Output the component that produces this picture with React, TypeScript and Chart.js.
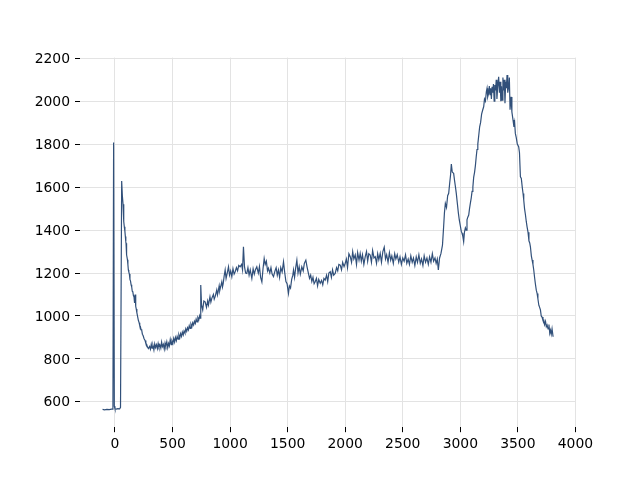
import React, { useEffect, useRef } from "react";
import { Chart, registerables } from "chart.js";

Chart.register(...registerables);

// [x, value] readings, split by region of the trace
const baseline: [number, number][] = [
  [-108, 565], [-90, 563], [-70, 565], [-50, 564], [-30, 566], [-18, 566],
  [-12, 1808], [-6, 580], [0, 567], [10, 566], [25, 568], [40, 567], [48, 575],
];

const decay: [number, number][] = [
  [58, 1628], [64, 1560], [70, 1520], [76, 1440], [81, 1415], [86, 1395], [90, 1370],
  [94, 1345], [96, 1338], [98, 1300], [100, 1330], [104, 1285], [108, 1262], [112, 1240],
  [116, 1214], [120, 1205], [125, 1195], [130, 1170], [135, 1162], [140, 1145],
  [145, 1136], [150, 1115], [155, 1112], [160, 1095], [165, 1089], [170, 1060],
  [175, 1100], [180, 1045], [185, 1032], [190, 1015], [197, 996], [203, 980],
  [210, 968], [215, 955], [220, 952], [226, 938], [232, 934], [238, 915], [245, 908],
  [252, 895], [261, 886], [268, 872], [275, 868], [282, 855], [290, 848],
];

const trough: [number, number][] = [
  [300, 858], [308, 845], [315, 868], [322, 850], [330, 862], [338, 842], [345, 870],
  [352, 853], [360, 866], [368, 848], [375, 872], [382, 855], [390, 865], [398, 850],
  [405, 878], [412, 857], [420, 868], [428, 846], [435, 874], [442, 860], [450, 880],
  [458, 852], [465, 872], [472, 860], [480, 890], [488, 866], [495, 884], [503, 872],
  [510, 895], [518, 878], [525, 900], [533, 885], [540, 905], [548, 892], [555, 912],
  [563, 898], [570, 918], [578, 905], [585, 925], [593, 912], [600, 930], [608, 920],
  [615, 940], [623, 928], [630, 945], [638, 935], [645, 955], [653, 942], [660, 962],
  [668, 950], [675, 968], [683, 958], [690, 975], [698, 965], [705, 985], [713, 972],
  [720, 992], [728, 982], [735, 1000], [740, 990],
];

const rise: [number, number][] = [
  [745, 1144], [752, 1050], [762, 1028], [772, 1070], [783, 1066], [795, 1040],
  [805, 1070], [812, 1051], [825, 1090], [833, 1065], [841, 1082], [855, 1100], [862, 1078],
  [870, 1090], [884, 1121], [890, 1098], [895, 1110], [905, 1140], [910, 1118], [915, 1130],
  [928, 1159], [934, 1135], [940, 1150], [948, 1185], [957, 1214], [965, 1175], [975, 1200],
  [986, 1229], [995, 1190], [1005, 1210], [1015, 1183], [1025, 1220], [1035, 1195],
  [1044, 1206], [1055, 1225], [1065, 1210], [1075, 1235], [1087, 1229], [1100, 1240],
  [1108, 1215], [1116, 1322], [1125, 1230], [1135, 1200], [1145, 1198], [1155, 1225],
  [1165, 1190], [1175, 1215], [1189, 1175], [1200, 1220], [1210, 1195], [1220, 1215],
  [1232, 1229], [1245, 1200], [1255, 1230], [1265, 1180], [1276, 1159], [1286, 1220],
  [1296, 1268], [1305, 1240], [1315, 1255], [1325, 1210], [1333, 1222], [1345, 1200],
  [1355, 1225], [1365, 1195], [1377, 1183], [1390, 1210], [1400, 1225], [1410, 1190],
  [1420, 1214], [1430, 1180], [1440, 1225], [1452, 1205], [1464, 1252], [1475, 1200],
  [1485, 1160], [1495, 1150], [1507, 1105], [1515, 1140], [1525, 1130], [1535, 1170],
  [1545, 1190], [1551, 1214], [1560, 1180], [1570, 1225], [1580, 1260], [1590, 1200],
  [1600, 1230], [1610, 1195], [1623, 1229], [1635, 1210], [1645, 1245], [1658, 1260],
  [1668, 1230], [1680, 1200], [1690, 1175], [1700, 1190], [1710, 1160], [1720, 1180],
  [1730, 1150], [1739, 1159], [1750, 1175], [1760, 1140], [1770, 1170], [1783, 1152],
  [1795, 1165], [1805, 1145], [1815, 1175], [1826, 1167], [1838, 1190], [1848, 1160],
  [1858, 1200], [1870, 1206], [1880, 1180], [1890, 1215], [1900, 1190], [1913, 1198],
  [1925, 1225], [1935, 1210], [1945, 1240], [1957, 1237], [1968, 1215], [1978, 1250],
  [1990, 1230],
];

const plateau: [number, number][] = [
  [2000, 1245], [2010, 1265], [2020, 1225], [2032, 1290], [2044, 1276], [2055, 1250],
  [2065, 1300], [2075, 1265], [2087, 1284], [2098, 1240], [2108, 1295], [2120, 1260],
  [2130, 1291], [2140, 1255], [2150, 1285], [2162, 1240], [2174, 1276], [2185, 1300],
  [2195, 1255], [2205, 1290], [2217, 1284], [2228, 1250], [2238, 1305], [2250, 1270],
  [2261, 1276], [2272, 1245], [2282, 1290], [2292, 1262], [2304, 1291], [2315, 1250],
  [2327, 1300], [2339, 1320], [2350, 1265], [2360, 1285], [2372, 1250], [2384, 1295],
  [2395, 1260], [2405, 1280], [2418, 1245], [2430, 1290], [2440, 1265], [2452, 1285],
  [2465, 1250], [2476, 1275], [2488, 1240], [2500, 1270], [2512, 1255], [2524, 1285],
  [2535, 1245], [2547, 1265], [2558, 1240], [2570, 1280], [2582, 1250], [2593, 1270],
  [2605, 1235], [2617, 1275], [2628, 1250], [2640, 1285], [2652, 1245], [2663, 1265],
  [2675, 1235], [2686, 1280], [2698, 1250], [2710, 1270], [2722, 1240], [2733, 1275],
  [2745, 1250], [2757, 1290], [2768, 1255], [2780, 1270], [2790, 1245], [2800, 1265],
  [2809, 1214], [2820, 1270],
];

const shoulder: [number, number][] = [
  [2832, 1291], [2845, 1330], [2855, 1415], [2862, 1480], [2870, 1524], [2880, 1505],
  [2890, 1560], [2899, 1571], [2908, 1620], [2915, 1655], [2922, 1707], [2930, 1670],
  [2942, 1664], [2950, 1630], [2958, 1600], [2965, 1571], [2975, 1520], [2983, 1480],
  [2991, 1447], [3000, 1420], [3008, 1395], [3015, 1385], [3022, 1370], [3029, 1346],
  [3036, 1390], [3044, 1410], [3051, 1400], [3058, 1447], [3065, 1460], [3073, 1470],
  [3080, 1500], [3087, 1524],
];

const peak: [number, number][] = [
  [3095, 1550], [3102, 1580], [3109, 1600], [3116, 1645], [3124, 1670], [3131, 1700],
  [3138, 1740], [3145, 1775], [3152, 1800], [3160, 1840], [3168, 1881], [3176, 1900],
  [3185, 1940], [3195, 1960], [3203, 1974], [3210, 2010], [3218, 2000], [3226, 2044],
  [3232, 2060], [3238, 2020], [3246, 2036], [3252, 2070], [3258, 2030], [3264, 2060],
  [3270, 2010], [3276, 2067], [3282, 2040], [3288, 2080], [3294, 2000], [3300, 2075],
  [3306, 2050], [3312, 2100], [3318, 2010], [3324, 2060], [3333, 2114], [3340, 2040],
  [3346, 2090], [3352, 2000], [3358, 2070], [3363, 2005], [3370, 2110], [3376, 2050],
  [3382, 2100], [3388, 1990], [3394, 2090], [3400, 2060], [3406, 2122], [3412, 2040],
  [3420, 2067], [3426, 2110], [3432, 1960], [3441, 2020], [3448, 1950], [3458, 1912],
];

const tail: [number, number][] = [
  [3466, 1880], [3472, 1900], [3478, 1850], [3486, 1830], [3495, 1800], [3507, 1788],
  [3514, 1760], [3522, 1648], [3530, 1640], [3538, 1600], [3545, 1570], [3551, 1540],
  [3558, 1500], [3566, 1470], [3573, 1440], [3580, 1415], [3588, 1390], [3596, 1350],
  [3603, 1340], [3609, 1322], [3617, 1280], [3624, 1260], [3631, 1240], [3638, 1214],
  [3645, 1180], [3652, 1150], [3660, 1120], [3667, 1105], [3674, 1080], [3682, 1050],
  [3689, 1040], [3696, 1028], [3703, 1000], [3710, 995], [3718, 980], [3725, 981],
  [3732, 960], [3740, 975], [3747, 950], [3754, 958], [3762, 940], [3770, 960],
  [3777, 920], [3783, 934], [3790, 915], [3797, 940], [3806, 903],
];

const xTicks = [0, 500, 1000, 1500, 2000, 2500, 3000, 3500, 4000];
const yTicks = [600, 800, 1000, 1200, 1400, 1600, 1800, 2000, 2200];

export default function App() {
  const ref = useRef<HTMLCanvasElement>(null);

  useEffect(() => {
    if (!ref.current) return;
    const points = [...baseline, ...decay, ...trough, ...rise, ...plateau, ...shoulder, ...peak, ...tail]
      .map(([x, y]) => ({ x, y }));
    const font = { family: "DejaVu Sans", size: 13.9 };
    const chart = new Chart(ref.current, {
      type: "line",
      data: {
        datasets: [
          {
            data: points,
            borderColor: "#31507a",
            borderWidth: 1.2,
            pointRadius: 0,
            tension: 0,
            fill: false,
          },
        ],
      },
      options: {
        animation: false,
        responsive: false,
        devicePixelRatio: 1,
        layout: { padding: { left: 0, top: 57.6, right: 64, bottom: 0 } },
        plugins: { legend: { display: false }, tooltip: { enabled: false } },
        scales: {
          x: {
            type: "linear",
            min: -304,
            max: 4005,
            afterBuildTicks: (s: any) => {
              s.ticks = xTicks.map((v) => ({ value: v }));
            },
            afterFit: (s: any) => {
              s.height = 52.8;
            },
            ticks: { color: "#000", font, padding: 4, maxRotation: 0, callback: (v: any) => String(v) },
            grid: { color: "#e3e3e3", lineWidth: 1, tickColor: "#000", tickLength: 5, tickWidth: 1 },
            border: { display: false },
          },
          y: {
            type: "linear",
            min: 482,
            max: 2203,
            afterBuildTicks: (s: any) => {
              s.ticks = yTicks.map((v) => ({ value: v }));
            },
            afterFit: (s: any) => {
              s.width = 80;
            },
            ticks: { color: "#000", font, padding: 5, labelOffset: 1, callback: (v: any) => String(v) },
            grid: { color: "#e3e3e3", lineWidth: 1, tickColor: "#000", tickLength: 5, tickWidth: 1 },
            border: { display: false },
          },
        },
      },
    });
    return () => chart.destroy();
  }, []);

  return (
    <div style={{ position: "fixed", left: 0, top: 0, width: 640, height: 480, background: "#fff" }}>
      <canvas ref={ref} width={640} height={480} style={{ width: 640, height: 480 }} />
    </div>
  );
}
